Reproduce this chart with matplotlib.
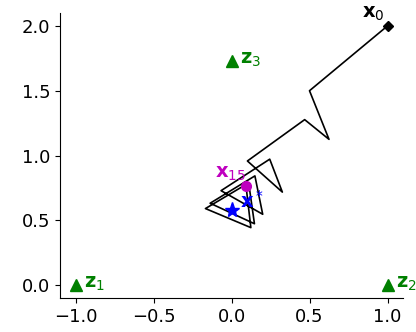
import matplotlib.pyplot as plt


# =========================
# データ
# =========================

path_x = [1.0, 0.5, 0.625, 0.469, 0.102, 0.326, 0.245, -0.067,
          0.200, 0.150, -0.137, 0.147, 0.110, -0.167, 0.124, 0.093]
path_y = [2.0, 1.5, 1.125, 1.277, 0.958, 0.718, 0.972, 0.729,
          0.547, 0.843, 0.632, 0.474, 0.789, 0.591, 0.444, 0.766]

z_x = [-1.0, 1.0, 0.0]
z_y = [0.0, 0.0, 1.732]
z_labels = [r"$\mathbf{z}_1$", r"$\mathbf{z}_2$", r"$\mathbf{z}_3$"]

star_x = 0.0
star_y = 0.577


# =========================
# 描画
# =========================

fig = plt.figure(figsize=(4.16, 3.32), dpi=100)
ax = fig.add_axes([0.144, 0.102, 0.825, 0.859])

ax.plot(path_x, path_y, color="black", lw=1.2)

ax.plot(path_x[0], path_y[0], "D", color="black", ms=5)
ax.annotate(r"$\mathbf{x}_0$", (path_x[0], path_y[0]),
            xytext=(-2, 2), textcoords="offset points",
            ha="right", va="bottom", fontsize=14, color="black")

ax.plot(path_x[-1], path_y[-1], "o", color="m", ms=7)
ax.annotate(r"$\mathbf{x}_{15}$", (path_x[-1], path_y[-1]),
            xytext=(0, 2), textcoords="offset points",
            ha="right", va="bottom", fontsize=14, color="m")

ax.plot(z_x, z_y, "^", color="green", ms=9)
for zx, zy, lab in zip(z_x, z_y, z_labels):
    ax.annotate(lab, (zx, zy),
                xytext=(6, 1), textcoords="offset points",
                ha="left", va="center", fontsize=14, color="green")

ax.plot(star_x, star_y, "*", color="blue", ms=11)
ax.annotate(r"$\mathbf{x}^*$", (star_x, star_y),
            xytext=(6, -1), textcoords="offset points",
            ha="left", va="bottom", fontsize=14, color="blue")

ax.set_xlim(-1.1, 1.1)
ax.set_ylim(-0.1, 2.1)
ax.set_xticks([-1.0, -0.5, 0.0, 0.5, 1.0])
ax.set_yticks([0.0, 0.5, 1.0, 1.5, 2.0])
ax.tick_params(labelsize=13)

ax.spines["top"].set_visible(False)
ax.spines["right"].set_visible(False)

fig.savefig("out.png", dpi=100)
